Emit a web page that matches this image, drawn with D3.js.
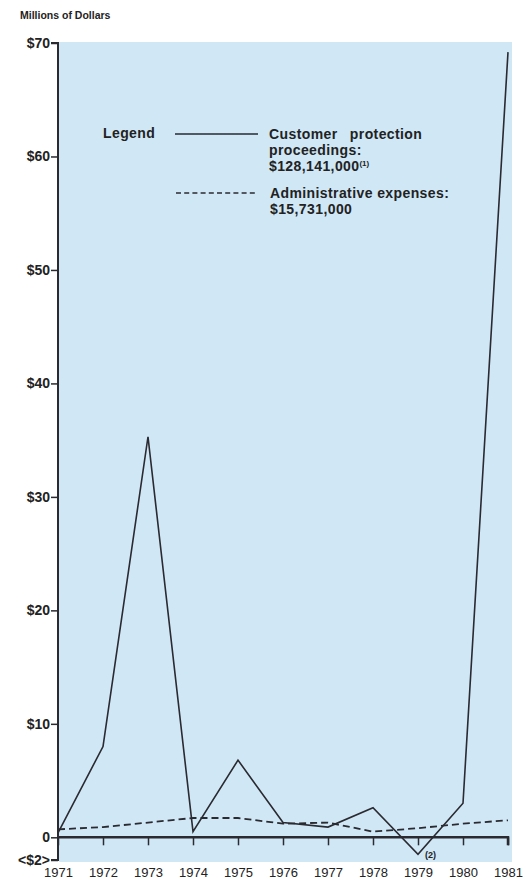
<!DOCTYPE html>
<html>
<head>
<meta charset="utf-8">
<script src="https://cdn.jsdelivr.net/npm/d3@7"></script>
<style>
  body { margin: 0; background: #fff; }
  text { font-family: "Liberation Sans", Arial, sans-serif; fill: #222; }
</style>
</head>
<body>
<svg id="chart" width="530" height="884"></svg>
<script>
const years = [1971, 1972, 1973, 1974, 1975, 1976, 1977, 1978, 1979, 1980, 1981];
const protection = [0.4, 8.0, 35.3, 0.5, 6.8, 1.3, 0.9, 2.6, -1.5, 3.0, 69.2];
const admin = [0.7, 0.9, 1.3, 1.7, 1.7, 1.2, 1.3, 0.5, 0.8, 1.2, 1.5];
const yTicks = [-2, 0, 10, 20, 30, 40, 50, 60, 70];
const yTickLabels = ["<$2>", "0", "$10", "$20", "$30", "$40", "$50", "$60", "$70"];

const svg = d3.select("#chart");
const ink = "#2a2a30";
const font = "Liberation Sans, Arial, sans-serif";

const x = d3.scaleLinear().domain([1971, 1981]).range([58, 508]);
const y = d3.scaleLinear().domain([-2, 70]).range([860, 43]);

// light blue panel behind the plot
svg.append("rect")
  .attr("x", 59).attr("y", 42)
  .attr("width", 453).attr("height", 820)
  .attr("fill", "#d0e7f6");

svg.append("text")
  .attr("x", 20).attr("y", 19)
  .attr("font-size", 10.5).attr("font-weight", "bold")
  .text("Millions of Dollars");

// y axis
const yAxis = svg.append("g")
  .attr("transform", `translate(${x(1971)},0)`)
  .call(d3.axisLeft(y).tickValues(yTicks).tickSize(7).tickPadding(1)
    .tickFormat((d, i) => yTickLabels[i]));
yAxis.select(".domain").attr("stroke", ink).attr("stroke-width", 2)
  .attr("d", `M-7,${y(-2)}H0V${y(70)}H-7`);
yAxis.selectAll(".tick line").attr("stroke", ink).attr("stroke-width", 1.5);
yAxis.selectAll(".tick text")
  .attr("font-size", 14).attr("font-weight", "bold")
  .attr("font-family", font).attr("fill", "#222");

// zero line with downward year ticks
const xAxis = svg.append("g")
  .attr("transform", `translate(0,${y(0)})`)
  .call(d3.axisBottom(x).tickValues(years).tickSize(8).tickPadding(22)
    .tickFormat(d3.format("d")));
xAxis.select(".domain").attr("stroke", ink).attr("stroke-width", 2.5)
  .attr("d", `M${x(1971)},0H${x(1981)}V8`);
xAxis.selectAll(".tick line").attr("stroke", ink).attr("stroke-width", 1.5);
xAxis.selectAll(".tick text")
  .attr("font-size", 13).attr("font-family", font).attr("fill", "#222");

const line = d3.line().x((d, i) => x(years[i])).y(d => y(d));

svg.append("path")
  .datum(admin)
  .attr("d", line)
  .attr("fill", "none").attr("stroke", ink)
  .attr("stroke-width", 1.8).attr("stroke-dasharray", "7,4");

svg.append("path")
  .datum(protection)
  .attr("d", line)
  .attr("fill", "none").attr("stroke", ink)
  .attr("stroke-width", 1.6);

svg.append("text")
  .attr("x", x(1979) + 7).attr("y", y(-1.5) + 4)
  .attr("font-size", 9).attr("font-weight", "bold").text("(2)");

// legend
const lg = svg.append("g").attr("font-size", 14).attr("font-weight", "bold")
  .attr("letter-spacing", 0.4);
lg.append("text").attr("x", 103).attr("y", 138).text("Legend");
lg.append("line").attr("x1", 175).attr("x2", 258).attr("y1", 134).attr("y2", 134)
  .attr("stroke", ink).attr("stroke-width", 1.6);
const t1 = lg.append("text").attr("x", 269).attr("y", 139);
t1.append("tspan").attr("x", 269).attr("word-spacing", 8).text("Customer protection");
t1.append("tspan").attr("x", 269).attr("dy", 16).text("proceedings:");
t1.append("tspan").attr("x", 269).attr("dy", 16).text("$128,141,000");
t1.append("tspan").attr("dy", -5).attr("font-size", 8).attr("letter-spacing", 0).text("(1)");
lg.append("line").attr("x1", 176).attr("x2", 258).attr("y1", 193).attr("y2", 193)
  .attr("stroke", ink).attr("stroke-width", 1.5).attr("stroke-dasharray", "5,3.2");
const t2 = lg.append("text").attr("x", 270).attr("y", 198);
t2.append("tspan").attr("x", 270).text("Administrative expenses:");
t2.append("tspan").attr("x", 270).attr("dy", 16).text("$15,731,000");
</script>
</body>
</html>
